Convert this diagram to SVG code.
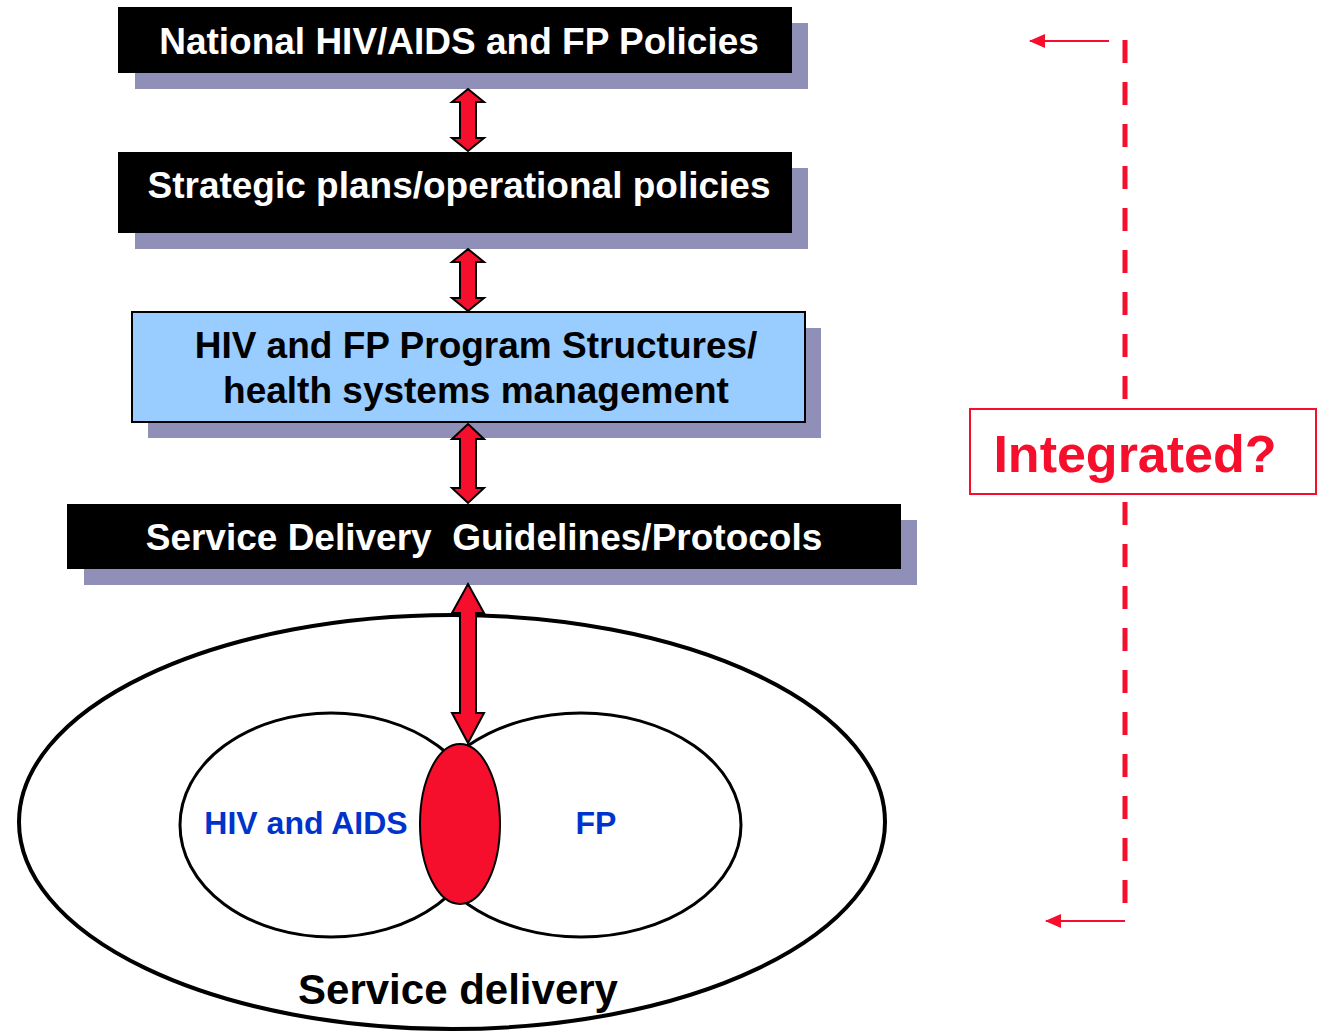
<svg xmlns="http://www.w3.org/2000/svg" width="1317" height="1031" viewBox="0 0 1317 1031">
<style>
.shadow{fill:#8F8FB8}
.blk{fill:#000}
.wt{fill:#fff;font-family:"Liberation Sans",Arial,sans-serif;font-weight:bold;font-size:37px;text-anchor:middle}
.bt{fill:#000;font-family:"Liberation Sans",Arial,sans-serif;font-weight:bold;font-size:37px;text-anchor:middle}
.blue{fill:#0033CC;font-family:"Liberation Sans",Arial,sans-serif;font-weight:bold;font-size:32px;text-anchor:middle}
.dbl{fill:#F50F2D;stroke:#000;stroke-width:2;stroke-linejoin:miter}
.dash{stroke:#F50F2D;stroke-width:5;fill:none}
.thin{stroke:#F50F2D;stroke-width:2;fill:none}
</style>
<defs>
<marker id="ah" markerWidth="16" markerHeight="14" refX="15" refY="7" orient="auto" markerUnits="userSpaceOnUse">
<path d="M0,0 L16,7 L0,14 Z" fill="#F50F2D"/>
</marker>
</defs>
<rect width="1317" height="1031" fill="#fff"/>

<g id="node-national">
<rect class="shadow" x="135" y="23" width="673" height="66"/>
<rect class="blk" x="118" y="7" width="674" height="66"/>
<text class="wt" x="459" y="54">National HIV/AIDS and FP Policies</text>
</g>
<g id="node-strategic">
<rect class="shadow" x="135" y="168" width="673" height="81"/>
<rect class="blk" x="118" y="152" width="674" height="81"/>
<text class="wt" x="459" y="198">Strategic plans/operational policies</text>
</g>
<g id="node-program">
<rect class="shadow" x="148" y="328" width="673" height="110"/>
<rect x="132" y="312" width="673" height="110" fill="#99CCFF" stroke="#000" stroke-width="2"/>
<text class="bt" x="476" y="358">HIV and FP Program Structures/</text>
<text class="bt" x="476" y="403">health systems management</text>
</g>
<g id="node-guidelines">
<rect class="shadow" x="84" y="520" width="833" height="65"/>
<rect class="blk" x="67" y="504" width="834" height="65"/>
<text class="wt" x="484" y="550" xml:space="preserve">Service Delivery  Guidelines/Protocols</text>
</g>

<g id="node-service-delivery">
<ellipse cx="452" cy="822" rx="433" ry="207" fill="#fff" stroke="#000" stroke-width="4"/>
<text class="bt" x="458" y="1004" style="font-size:42px">Service delivery</text>
</g>
<g id="node-hiv">
<ellipse cx="331" cy="825" rx="151" ry="112" fill="none" stroke="#000" stroke-width="3"/>
<text class="blue" x="306" y="834">HIV and AIDS</text>
</g>
<g id="node-fp">
<ellipse cx="581" cy="825" rx="160" ry="112" fill="none" stroke="#000" stroke-width="3"/>
<text class="blue" x="596" y="834">FP</text>
</g>

<g id="connectors">
<path class="dbl" d="M468,89 L484,102 L476,102 L476,138 L484,138 L468,151 L452,138 L460,138 L460,102 L452,102 Z"/>
<path class="dbl" d="M468,249 L484,262 L476,262 L476,298 L484,298 L468,311 L452,298 L460,298 L460,262 L452,262 Z"/>
<path class="dbl" d="M468,424 L484,439 L476,439 L476,488 L484,488 L468,503 L452,488 L460,488 L460,439 L452,439 Z"/>
<path class="dbl" d="M468,584 L484,613 L476,613 L476,713 L484,713 L468,743 L452,713 L460,713 L460,613 L452,613 Z"/>
<line class="dash" x1="1125" y1="40" x2="1125" y2="920" stroke-dasharray="23 19"/>
<line class="thin" x1="1109" y1="41" x2="1030" y2="41" marker-end="url(#ah)"/>
<line class="thin" x1="1125" y1="921" x2="1046" y2="921" marker-end="url(#ah)"/>
</g>

<g id="node-overlap">
<ellipse cx="460" cy="824" rx="40" ry="80" fill="#F50F2D" stroke="#000" stroke-width="2"/>
</g>

<g id="node-integrated">
<rect x="970" y="409" width="346" height="85" fill="#fff" stroke="#F50F2D" stroke-width="2"/>
<text x="1135" y="472" fill="#F50F2D" font-family="'Liberation Sans',Arial,sans-serif" font-weight="bold" font-size="52" text-anchor="middle">Integrated?</text>
</g>
</svg>
